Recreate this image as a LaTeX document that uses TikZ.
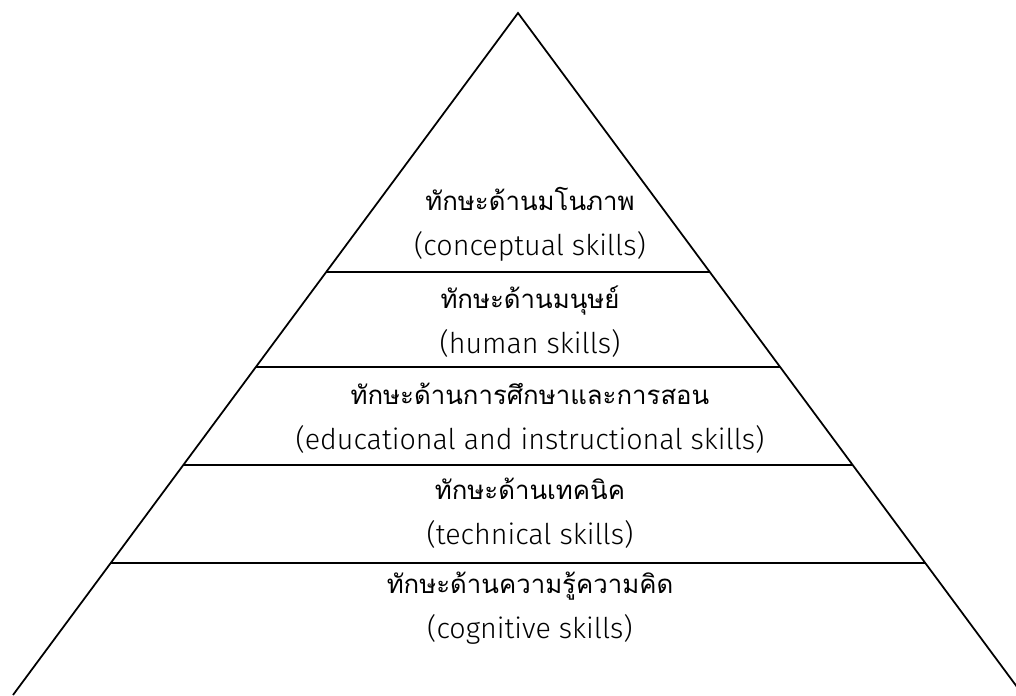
\documentclass[tikz,border=0pt]{standalone}
\usepackage{fontspec}
\setmainfont{Fira Sans Light}
\newfontfamily\thaifont[Script=Thai,Scale=0.9]{Loma}
\usetikzlibrary{calc}

\begin{document}
\begin{tikzpicture}[skill/.style={align=center,inner sep=0pt,font=\fontsize{16.3}{25.5}\selectfont},
  edge/.style={line width=1pt}]
\useasboundingbox (0,0) rectangle (20.32,13.9);
\clip (0,0) rectangle (20.32,13.9);
\coordinate (top) at (10.36,13.64);
\coordinate (left) at (0.26,0);
\coordinate (right) at (20.46,0);
\draw[edge] (left) -- (top) -- (right);

\coordinate (l1) at ($(top)!0.3798!(left)$);
\coordinate (r1) at ($(top)!0.3798!(right)$);
\coordinate (l2) at ($(top)!0.5191!(left)$);
\coordinate (r2) at ($(top)!0.5191!(right)$);
\coordinate (l3) at ($(top)!0.6628!(left)$);
\coordinate (r3) at ($(top)!0.6628!(right)$);
\coordinate (l4) at ($(top)!0.8065!(left)$);
\coordinate (r4) at ($(top)!0.8065!(right)$);
\draw[edge] (l1) -- (r1);
\draw[edge] (l2) -- (r2);
\draw[edge] (l3) -- (r3);
\draw[edge] (l4) -- (r4);

\node[skill] at (10.6,9.42) (conceptual) {{\thaifont ทักษะด้านมโนภาพ}\\(conceptual skills)};
\node[skill] at (10.6,7.46) (human) {{\thaifont ทักษะด้านมนุษย์}\\(human skills)};
\node[skill] at (10.6,5.54) (educational) {{\thaifont ทักษะด้านการศึกษาและการสอน}\\(educational and instructional skills)};
\node[skill] at (10.6,3.64) (technical) {{\thaifont ทักษะด้านเทคนิค}\\(technical skills)};
\node[skill] at (10.6,1.74) (cognitive) {{\thaifont ทักษะด้านความรู้ความคิด}\\(cognitive skills)};
\end{tikzpicture}
\end{document}
